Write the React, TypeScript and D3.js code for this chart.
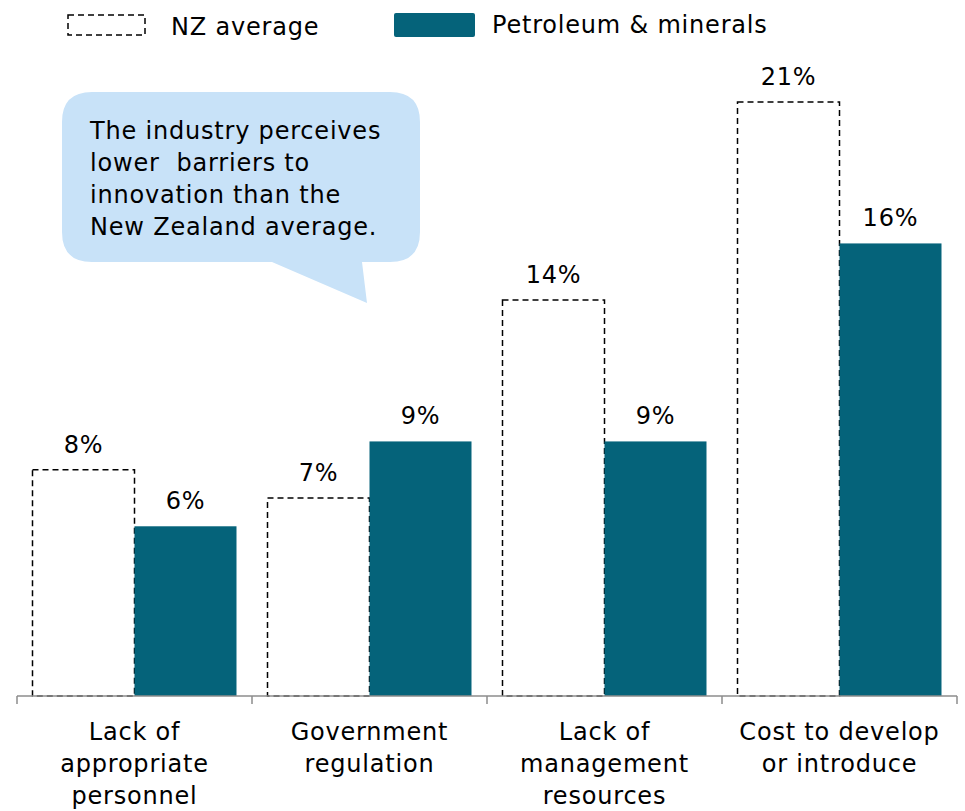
import React from "react";
import * as d3 from "d3";

const categories = [
  ["Lack of", "appropriate", "personnel"],
  ["Government", "regulation"],
  ["Lack of", "management", "resources"],
  ["Cost to develop", "or introduce"],
];
const categoryKeys = ["personnel", "regulation", "management", "cost"];
const seriesNames = ["NZ average", "Petroleum & minerals"];
const nzAverage = [8, 7, 14, 21];
const petroleum = [6, 9, 9, 16];
const calloutLines = [
  "The industry perceives",
  "lower  barriers to",
  "innovation than the",
  "New Zealand average.",
];

const TEAL = "#05637A";
const FONT = "'DejaVu Sans', sans-serif";

export default function App() {
  const W = 965;
  const H = 811;
  const baseY = 696;
  const x0 = d3.scaleBand<string>().domain(categoryKeys).range([17, 957]).paddingInner(0).paddingOuter(0);
  const x1 = d3
    .scaleBand<string>()
    .domain(seriesNames)
    .range([0, x0.bandwidth()])
    .paddingInner(0)
    .paddingOuter(0.152);
  const y = d3.scaleLinear().domain([0, 21]).range([baseY, 102]);

  const series = [nzAverage, petroleum];
  const fs = 24;
  const ls = 0.8;

  const tickXs = [...categoryKeys.map((k) => x0(k)!), x0(categoryKeys[categoryKeys.length - 1])! + x0.bandwidth()];

  // callout shape
  const cx0 = 62, cx1 = 420, cy0 = 92, cy1 = 262, r = 30;
  const tailA = 272, tailB = 362, tipX = 367, tipY = 303;
  const calloutPath = [
    `M${cx0 + r},${cy0}`,
    `L${cx1 - r},${cy0}`,
    `Q${cx1},${cy0} ${cx1},${cy0 + r}`,
    `L${cx1},${cy1 - r}`,
    `Q${cx1},${cy1} ${cx1 - r},${cy1}`,
    `L${tailB},${cy1}`,
    `L${tipX},${tipY}`,
    `L${tailA},${cy1}`,
    `L${cx0 + r},${cy1}`,
    `Q${cx0},${cy1} ${cx0},${cy1 - r}`,
    `L${cx0},${cy0 + r}`,
    `Q${cx0},${cy0} ${cx0 + r},${cy0}`,
    "Z",
  ].join(" ");

  return (
    <svg
      width={W}
      height={H}
      style={{ position: "absolute", left: 0, top: 0, background: "#fff" }}
      fontFamily={FONT}
      letterSpacing={ls}
    >
      {/* Legend */}
      <rect x={68} y={15} width={77} height={20} fill="#fff" stroke="#000" strokeWidth={1.5} strokeDasharray="6,4" />
      <text x={171} y={35} fontSize={fs} fill="#000">{seriesNames[0]}</text>
      <rect x={394} y={13} width={81} height={24} rx={2} fill={TEAL} />
      <text x={492} y={33} fontSize={fs} fill="#000">{seriesNames[1]}</text>

      {/* Bars */}
      {categoryKeys.map((k, i) => (
        <g key={k} transform={`translate(${x0(k)},0)`}>
          {series.map((vals, si) => {
            const bx = x1(seriesNames[si])!;
            const bw = x1.bandwidth();
            const top = y(vals[i]);
            return (
              <g key={si}>
                {si === 0 ? (
                  <rect x={bx} y={top} width={bw} height={baseY - top} fill="#fff" stroke="#000" strokeWidth={1.5} strokeDasharray="6,4" />
                ) : (
                  <rect x={bx} y={top} width={bw} height={baseY - top} fill={TEAL} />
                )}
                <text x={bx + bw / 2} y={top - 17} fontSize={fs} textAnchor="middle" fill="#000">
                  {vals[i]}%
                </text>
              </g>
            );
          })}
        </g>
      ))}

      {/* Axis */}
      <line x1={tickXs[0]} x2={tickXs[tickXs.length - 1]} y1={baseY} y2={baseY} stroke="#8c8c8c" strokeWidth={1.5} />
      {tickXs.map((t, i) => (
        <line key={i} x1={t} x2={t} y1={baseY} y2={baseY + 8} stroke="#8c8c8c" strokeWidth={1.5} />
      ))}
      {categoryKeys.map((k, i) => (
        <text key={k} x={x0(k)! + x0.bandwidth() / 2} y={740} fontSize={fs} textAnchor="middle" fill="#000">
          {categories[i].map((line, li) => (
            <tspan key={li} x={x0(k)! + x0.bandwidth() / 2} dy={li === 0 ? 0 : 32}>{line}</tspan>
          ))}
        </text>
      ))}

      {/* Callout */}
      <path d={calloutPath} fill="#C8E2F8" />
      <text x={90} y={139} fontSize={fs} fill="#000" style={{ whiteSpace: "pre" }}>
        {calloutLines.map((l, i) => (
          <tspan key={i} x={90} dy={i === 0 ? 0 : 32}>{l}</tspan>
        ))}
      </text>
    </svg>
  );
}
